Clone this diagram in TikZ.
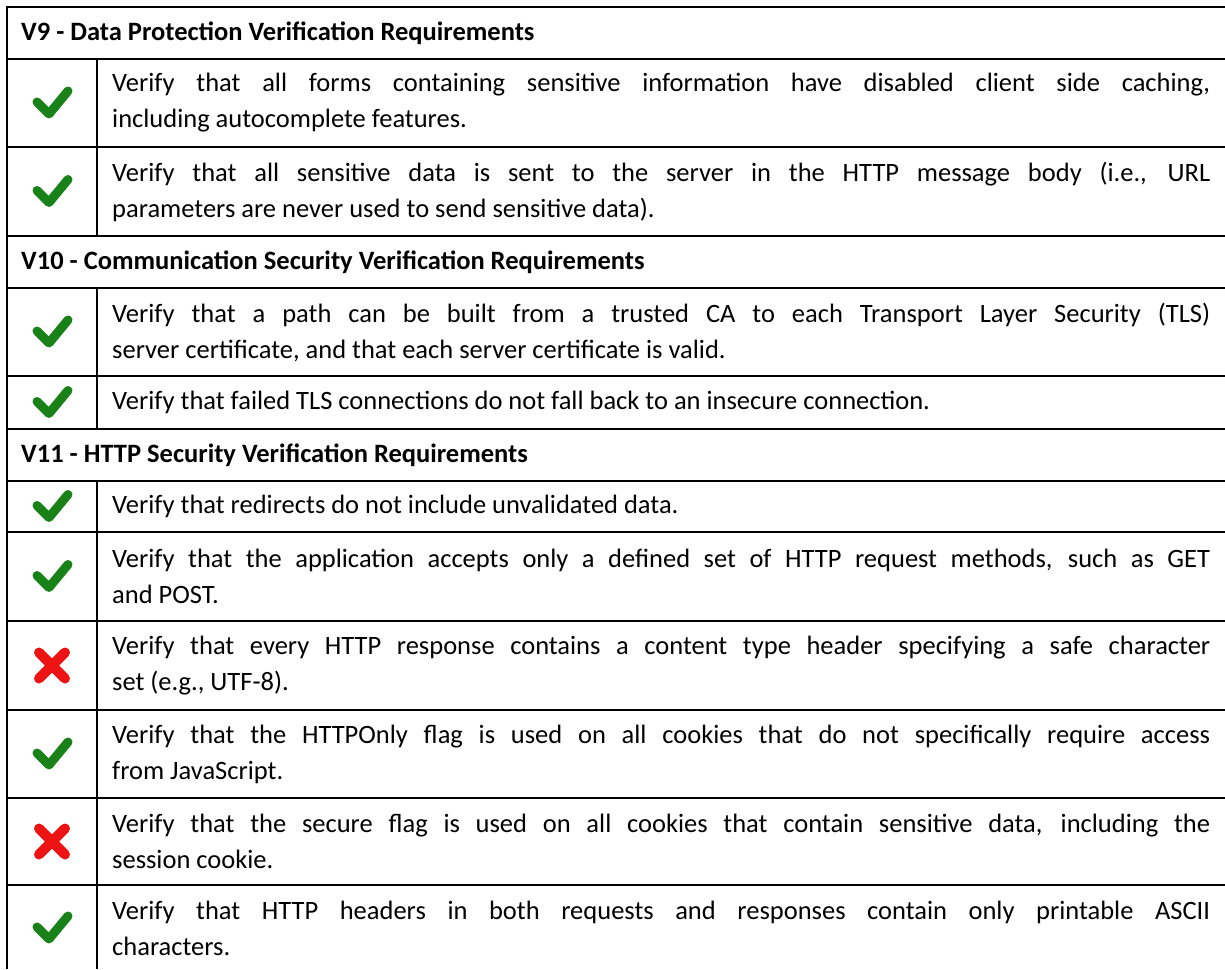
\documentclass[tikz,border=0pt]{standalone}
\usepackage{fontspec}
\setmainfont{Carlito}
\definecolor{okgreen}{RGB}{24,130,24}
\definecolor{badred}{RGB}{238,20,20}
\begin{document}
\begin{tikzpicture}[x=1pt,y=-1pt,
  rule/.style={line width=2.4pt},
  hdr/.style={anchor=west,inner sep=0pt,font=\fontsize{26.5}{36}\selectfont\bfseries},
  body/.style={anchor=west,inner sep=0pt,text width=1098pt,align=justify,
    font=\fontsize{26.5}{36}\selectfont},
  okmark/.pic={\draw[okgreen,line width=9pt,line cap=round,line join=round]
    (-15,-1) -- (-3,11) -- (16,-12);},
  badmark/.pic={\draw[badred,line width=10pt,line cap=round]
    (-13,-13) -- (13,13) (-13,13) -- (13,-13);}
]
\useasboundingbox (0,0) rectangle (1225,969);

% table rules
\draw[rule] (7,969) -- (7,7) -- (1225,7);
\foreach \y in {59,147,236,288,376,429,481,532,621,710,798,885}
  \draw[rule] (7,\y) -- (1225,\y);
\draw[rule] (97,59) -- (97,236);
\draw[rule] (97,288) -- (97,429);
\draw[rule] (97,481) -- (97,969);

% section headers
\node[hdr] (h9)  at (21,33)  {V9 - Data Protection Verification Requirements};
\node[hdr] (h10) at (21,262) {V10 - Communication Security Verification Requirements};
\node[hdr] (h11) at (21,455) {V11 - HTTP Security Verification Requirements};

% status marks
\pic at (52,103)   {okmark};
\pic at (52,191.5) {okmark};
\pic at (52,332)   {okmark};
\pic at (52,402.5) {okmark};
\pic at (52,506.5) {okmark};
\pic at (52,576.5) {okmark};
\pic at (52,665.5) {badmark};
\pic at (52,754)   {okmark};
\pic at (52,841.5) {badmark};
\pic at (52,928)   {okmark};

% requirement texts
\node[body] (t1) at (112,103) {Verify that all forms containing sensitive information have disabled client side caching,\linebreak including autocomplete features.};
\node[body] (t2) at (112,191.5) {Verify that all sensitive data is sent to the server in the HTTP message body (i.e., URL\linebreak parameters are never used to send sensitive data).};
\node[body] (t3) at (112,332) {Verify that a path can be built from a trusted CA to each Transport Layer Security (TLS)\linebreak server certificate, and that each server certificate is valid.};
\node[body] (t4) at (112,402.5) {Verify that failed TLS connections do not fall back to an insecure connection.};
\node[body] (t5) at (112,506.5) {Verify that redirects do not include unvalidated data.};
\node[body] (t6) at (112,576.5) {Verify that the application accepts only a defined set of HTTP request methods, such as GET\linebreak and POST.};
\node[body] (t7) at (112,665.5) {Verify that every HTTP response contains a content type header specifying a safe character\linebreak set (e.g., UTF-8).};
\node[body] (t8) at (112,754) {Verify that the HTTPOnly flag is used on all cookies that do not specifically require access\linebreak from JavaScript.};
\node[body] (t9) at (112,841.5) {Verify that the secure flag is used on all cookies that contain sensitive data, including the\linebreak session cookie.};
\node[body] (t10) at (112,928) {Verify that HTTP headers in both requests and responses contain only printable ASCII\linebreak characters.};
\end{tikzpicture}
\end{document}
